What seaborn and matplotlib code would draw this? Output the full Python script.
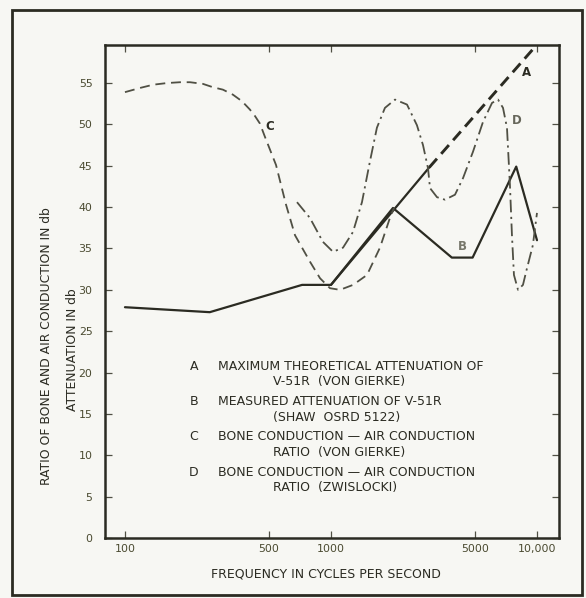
import matplotlib
matplotlib.use("Agg")
import matplotlib.pyplot as plt
import matplotlib.ticker as mticker
from matplotlib.patches import Rectangle
import seaborn as sns
import pandas as pd

# ---------------- data ----------------
# A: maximum theoretical attenuation (solid part, then dashed extrapolation)
a_solid_freq = [1000, 3000]
a_solid_val = [30.6, 44.8]
a_dash_freq = [3000, 9800]
a_dash_val = [44.8, 59.4]

# B: measured attenuation
b_freq = [100, 258, 724, 1000, 2000, 3860, 4870, 7930, 10000]
b_val = [27.9, 27.3, 30.6, 30.6, 39.9, 33.9, 33.9, 44.9, 36.0]

# C: bone/air conduction ratio (von Gierke)
c_freq = [100, 118, 137, 160, 185, 207, 239, 267, 299, 334, 370, 404, 428, 452, 478, 541, 605, 669,
          791, 885, 989, 1106, 1280, 1496, 1729, 1933, 2023]
c_val = [53.9, 54.4, 54.8, 55.0, 55.1, 55.1, 54.9, 54.5, 54.2, 53.6, 52.8, 51.8, 51.0, 50.1, 48.5, 45.1,
         40.3, 36.6, 33.4, 31.4, 30.2, 30.0, 30.6, 31.8, 35.1, 38.7, 39.9]

# D: bone/air conduction ratio (Zwislocki)
d_freq = [684, 790, 914, 1023, 1144, 1279, 1414, 1545, 1671, 1828, 2046, 2339, 2614, 2797, 2958, 3025,
          3272, 3575, 3999, 4374, 4891, 5469, 6050, 6470, 6840, 7150, 7390, 7560, 7730, 8090, 8550,
          8900, 9550, 10000]
d_val = [40.6, 38.7, 35.8, 34.6, 35.1, 37.0, 40.6, 45.5, 49.6, 52.0, 53.0, 52.4, 49.9, 47.5, 44.7, 42.3,
         41.2, 40.9, 41.5, 43.5, 46.7, 50.3, 52.6, 53.0, 52.0, 49.6, 42.7, 36.6, 31.8, 30.0, 30.6,
         32.4, 35.4, 39.3]

x_ticks = [100, 500, 1000, 5000, 10000]
x_tick_labels = ["100", "500", "1000", "5000", "10,000"]
y_ticks = list(range(0, 60, 5))

legend_lines = [
    ("A", "MAXIMUM THEORETICAL ATTENUATION OF", "V-51R  (VON GIERKE)"),
    ("B", "MEASURED ATTENUATION OF V-51R", "(SHAW  OSRD 5122)"),
    ("C", "BONE CONDUCTION \u2014 AIR CONDUCTION", "RATIO  (VON GIERKE)"),
    ("D", "BONE CONDUCTION \u2014 AIR CONDUCTION", "RATIO  (ZWISLOCKI)"),
]

# ---------------- style ----------------
sns.set_style("ticks")
plt.rcParams['font.family'] = ['DejaVu Sans']

ink = "#2b2b22"
grey = "#505044"
paper = "#f7f7f3"

W, H = 586, 598
fig = plt.figure(figsize=(W / 100, H / 100), dpi=100, facecolor=paper)
ax = fig.add_axes([105 / W, 1 - 538 / H, (559 - 105) / W, (538 - 45) / H])
ax.set_facecolor(paper)

def df(f, v):
    return pd.DataFrame({"f": f, "v": v})

sns.lineplot(data=df(b_freq, b_val), x="f", y="v", ax=ax, sort=False, estimator=None,
             color=ink, linewidth=1.6)
sns.lineplot(data=df(a_solid_freq, a_solid_val), x="f", y="v", ax=ax, sort=False, estimator=None,
             color=ink, linewidth=1.6)
sns.lineplot(data=df(a_dash_freq, a_dash_val), x="f", y="v", ax=ax, sort=False, estimator=None,
             color=ink, linewidth=2.1, linestyle=(0, (4.0, 2.2)))
sns.lineplot(data=df(c_freq, c_val), x="f", y="v", ax=ax, sort=False, estimator=None,
             color=grey, linewidth=1.3, linestyle=(0, (5.5, 3.2)))
sns.lineplot(data=df(d_freq, d_val), x="f", y="v", ax=ax, sort=False, estimator=None,
             color=grey, linewidth=1.3, linestyle=(0, (7.0, 2.5, 1.2, 2.5)))
for ln in ax.lines:
    ln.set_solid_joinstyle("round")
    ln.set_dash_joinstyle("round")

ax.set_xscale("log")
ax.set_xlim(80, 12790)
ax.set_ylim(0, 59.6)
ax.set_xticks(x_ticks)
ax.set_xticklabels(x_tick_labels)
ax.xaxis.set_minor_locator(mticker.NullLocator())
ax.set_yticks(y_ticks)
ax.tick_params(axis="both", which="major", direction="in", length=5, width=0.9,
               color=grey, labelsize=7.9, labelcolor="#4a4a30", top=True, right=True)
ax.tick_params(axis="x", pad=4)
ax.tick_params(axis="y", pad=9)
for s in ax.spines.values():
    s.set_color(ink)
    s.set_linewidth(1.8)
ax.set_xlabel("")
ax.set_ylabel("")

# curve letters
ax.text(506, 49.8, "C", fontsize=8.5, color=ink, fontweight="bold", ha="center", va="center")
ax.text(8930, 56.3, "A", fontsize=8.5, color=ink, fontweight="bold", ha="center", va="center")
ax.text(8000, 50.5, "D", fontsize=8.5, color="#66665a", fontweight="bold", ha="center", va="center")
ax.text(4330, 35.2, "B", fontsize=8.5, color="#77776a", fontweight="bold", ha="center", va="center")

# legend-like text block
fs = 9.0
y0 = 366
for i, (letter, l1, l2) in enumerate(legend_lines):
    ya = y0 + i * 35.5
    fig.text(194 / W, 1 - ya / H, letter, fontsize=fs, color=ink, ha="center", va="center")
    fig.text(218 / W, 1 - ya / H, l1, fontsize=fs, color=ink, ha="left", va="center")
    fig.text(273 / W, 1 - (ya + 15.5) / H, l2, fontsize=fs, color=ink, ha="left", va="center")

# axis titles
fig.text(326 / W, 1 - 574 / H, "FREQUENCY IN CYCLES PER SECOND", fontsize=9.0, color=ink,
         ha="center", va="center")
fig.text(47 / W, 1 - 346 / H, "RATIO OF BONE AND AIR CONDUCTION IN db", fontsize=8.9,
         color=ink, ha="center", va="center", rotation=90)
fig.text(73 / W, 1 - 350 / H, "ATTENUATION IN db", fontsize=8.9, color=ink,
         ha="center", va="center", rotation=90)

# outer frame
fig.patches.append(Rectangle((12 / W, 1 - 595 / H), (582 - 12) / W, (595 - 10) / H,
                             transform=fig.transFigure, fill=False, edgecolor=ink,
                             linewidth=2.0))

fig.savefig("out.png", dpi=100, facecolor=paper)
